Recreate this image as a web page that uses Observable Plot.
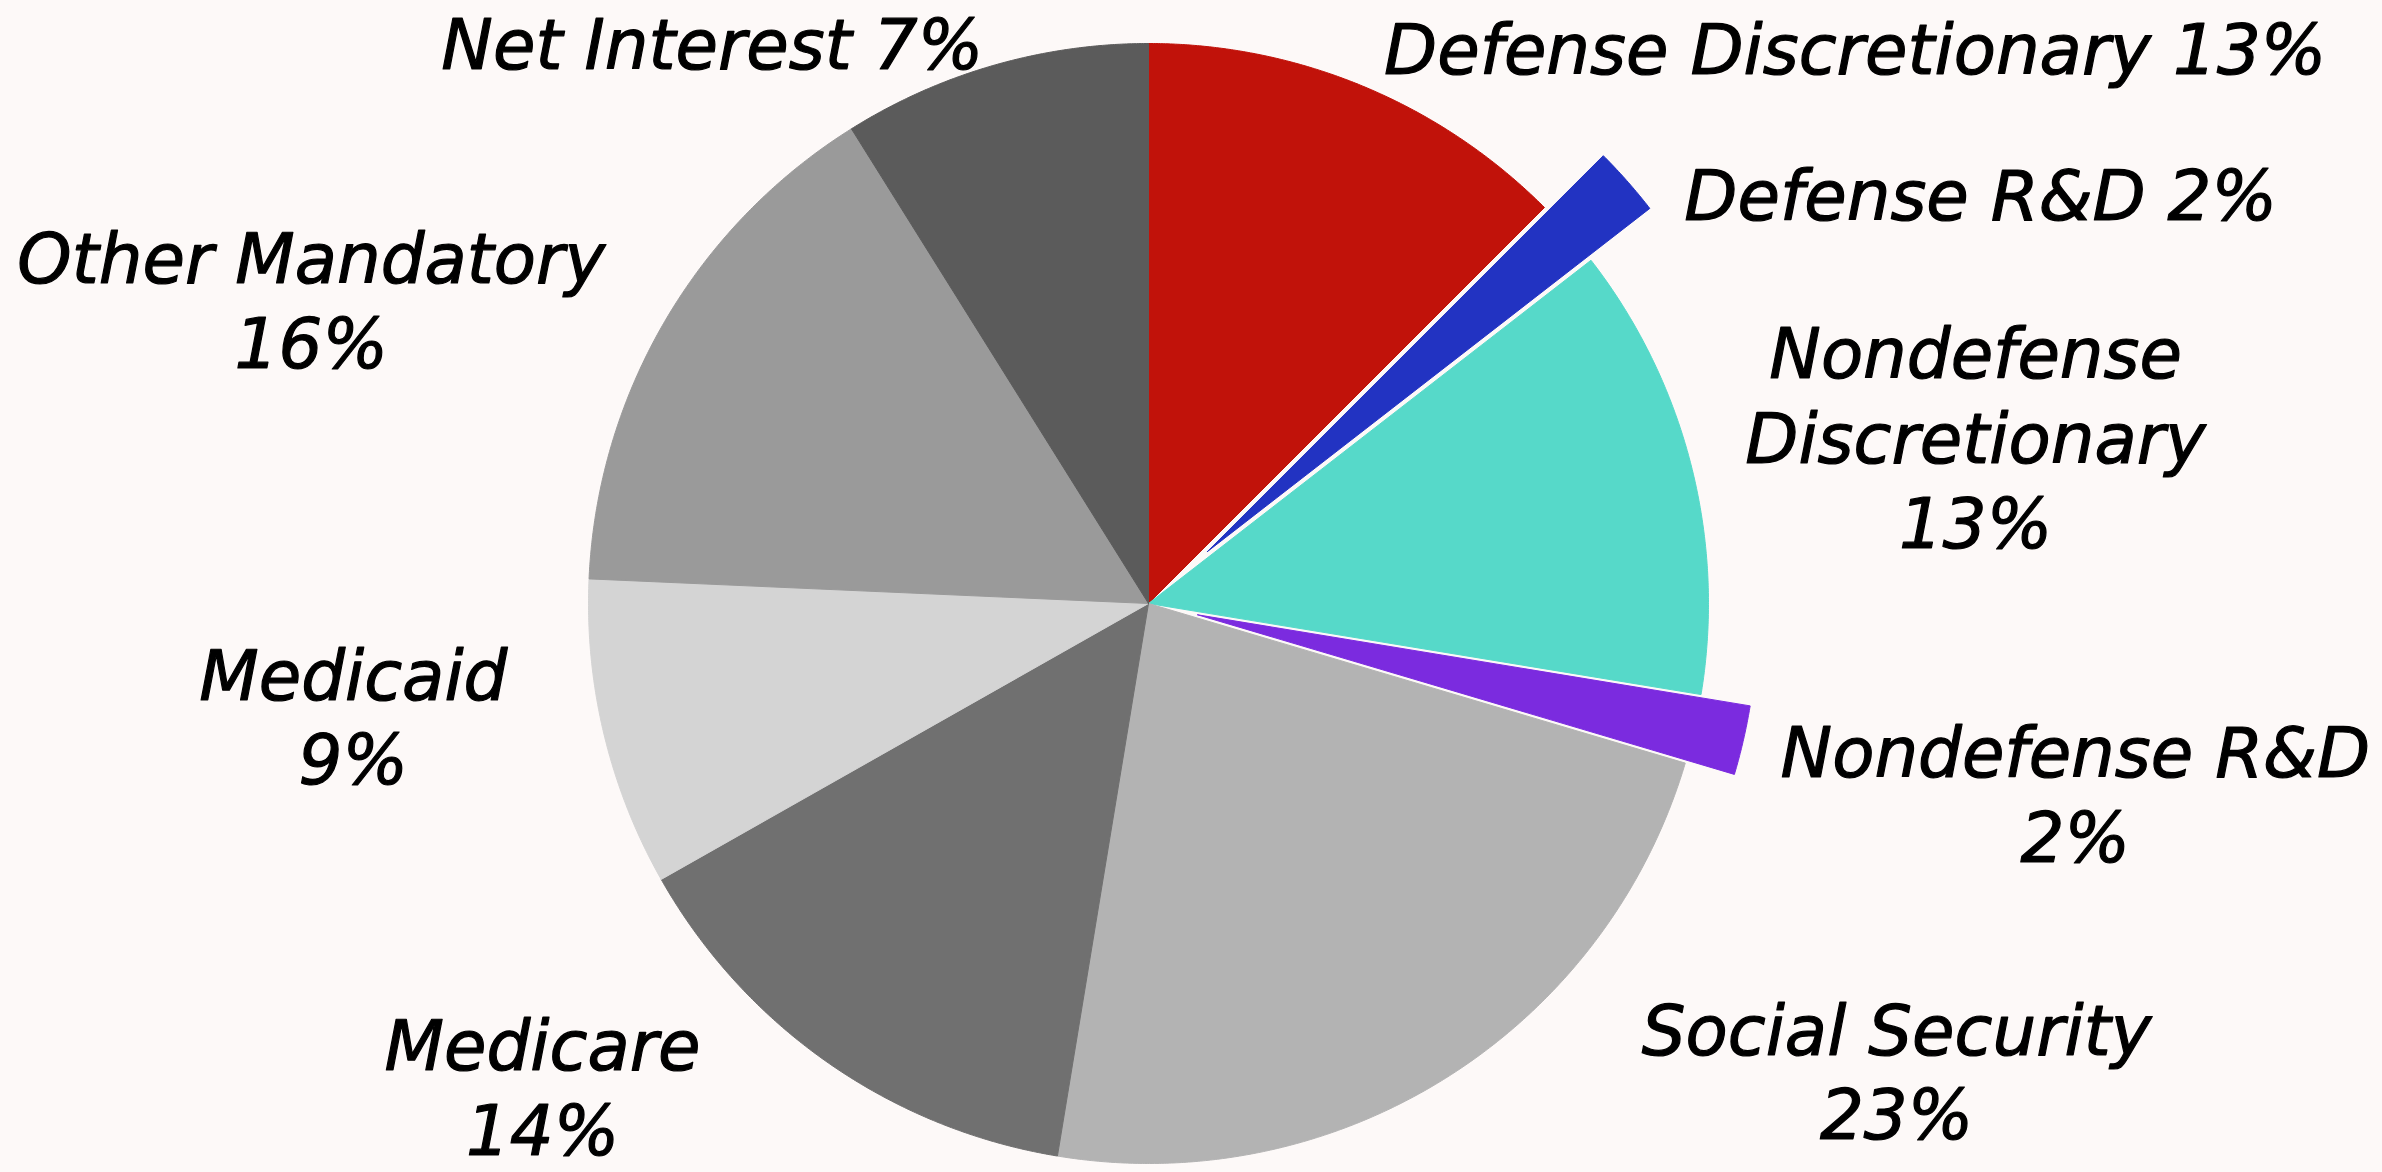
<!DOCTYPE html>
<html>
<head>
<meta charset="utf-8">
<script src="https://cdn.jsdelivr.net/npm/d3@7"></script>
<script src="https://cdn.jsdelivr.net/npm/@observablehq/plot@0.6"></script>
<style>
  html, body { margin: 0; padding: 0; background: #fdf9f8; overflow: hidden; }
  #chart svg { display: block; }
</style>
</head>
<body>
<div id="chart"></div>
<script>
// ---- data (clockwise from 12 o'clock) ----
const categories = [
  "Defense Discretionary", "Defense R&D", "Nondefense Discretionary", "Nondefense R&D",
  "Social Security", "Medicare", "Medicaid", "Other Mandatory", "Net Interest"
];
const shares = [12.5, 2.0, 13.1, 2.0, 23.0, 14.2, 8.9, 15.4, 8.9]; // slice sizes as drawn (percent of circle)
const labelTexts = [
  "Defense Discretionary 13%", "Defense R&D 2%", "Nondefense\nDiscretionary\n13%", "Nondefense R&D\n2%",
  "Social Security\n23%", "Medicare\n14%", "Medicaid\n9%", "Other Mandatory\n16%", "Net Interest 7%"
];
const sliceColors = [
  "#c1120a", "#2233c2", "#56d9c9", "#7b2bdf",
  "#b3b3b3", "#707070", "#d4d4d4", "#9a9a9a", "#5b5b5b"
];

// ---- layout (not data) ----
const W = 2382, H = 1172;
const R = 560, CX = 1148, CY = 603;            // pie radius and centre in pixels
const explode = {"Defense R&D": 0.14, "Nondefense R&D": 0.09}; // radial offsets in radius units
const labelAt = {                              // label anchor (centre x, last baseline) in radius units
  "Defense Discretionary": [1.262, 0.946],
  "Defense R&D": [1.486, 0.684],
  "Nondefense Discretionary": [1.477, 0.10],
  "Nondefense R&D": [1.655, -0.461],
  "Social Security": [1.336, -0.957],
  "Medicare": [-1.082, -0.985],
  "Medicaid": [-1.42, -0.323],
  "Other Mandatory": [-1.495, 0.42],
  "Net Interest": [-0.779, 0.955]
};

// ---- slice outlines computed from the shares ----
const total = d3.sum(shares);
const slicePts = [];
let acc = 0;
categories.forEach((name, i) => {
  const a0 = acc / total * 2 * Math.PI;
  acc += shares[i];
  const a1 = acc / total * 2 * Math.PI;
  const mid = (a0 + a1) / 2;
  const off = explode[name] || 0;
  const ox = off * Math.sin(mid), oy = off * Math.cos(mid);
  slicePts.push({name, x: ox, y: oy});
  const n = Math.max(4, Math.ceil((a1 - a0) / (Math.PI / 720)));
  for (let k = 0; k <= n; k++) {
    const a = a0 + (a1 - a0) * k / n;
    slicePts.push({name, x: ox + Math.sin(a), y: oy + Math.cos(a)});
  }
  slicePts.push({name, x: ox, y: oy});
});

const labels = categories.map((name, i) => ({
  name, text: labelTexts[i], x: labelAt[name][0], y: labelAt[name][1]
}));

const chart = Plot.plot({
  width: W,
  height: H,
  margin: 0,
  style: {background: "#fdf9f8"},
  x: {domain: [-CX / R, (W - CX) / R], axis: null},
  y: {domain: [-(H - CY) / R, CY / R], axis: null},
  color: {domain: categories, range: sliceColors},
  marks: [
    Plot.line(slicePts, {
      x: "x", y: "y", z: "name", fill: "name", stroke: "name",
      strokeWidth: 1, curve: "linear"
    }),
    Plot.text(labels, {
      x: "x", y: "y", text: "text",
      fontFamily: "DejaVu Sans", fontStyle: "italic", fontSize: 69,
      lineHeight: 1.23, lineAnchor: "bottom", textAnchor: "middle",
      fill: "#000", stroke: "#000", strokeWidth: 1.2
    })
  ]
});
document.getElementById("chart").append(chart);
</script>
</body>
</html>
